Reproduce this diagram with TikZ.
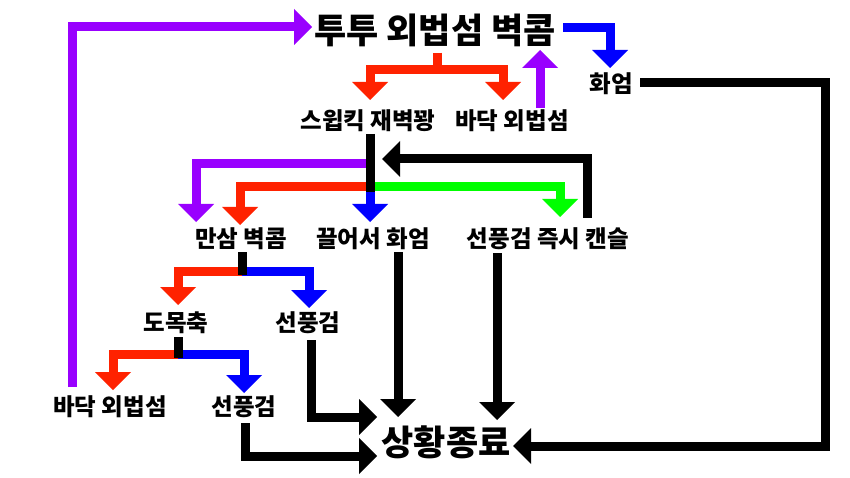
\documentclass[tikz,border=0pt]{standalone}
\usepackage{fontspec}
\setmainfont{Noto Sans CJK KR}[UprightFont=* Black]
\usetikzlibrary{arrows.meta}
\definecolor{cpur}{RGB}{153,0,255}
\definecolor{cred}{RGB}{255,34,0}
\definecolor{cblu}{RGB}{0,0,255}
\definecolor{cgrn}{RGB}{0,255,0}
\tikzset{
  conn/.style={line width=9pt, line join=miter},
  tipped/.style={conn, -{Triangle[length=18pt,width=36pt,line width=0pt]}},
  apur/.style={tipped, color=cpur},
  ared/.style={tipped, color=cred},
  ablu/.style={tipped, color=cblu},
  agrn/.style={tipped, color=cgrn},
  ablk/.style={tipped, color=black},
  stem/.style={conn, color=black},
  big/.style={inner sep=0pt, font=\fontsize{35}{35}\selectfont},
  small/.style={inner sep=0pt, font=\fontsize{23.5}{23.5}\selectfont},
}
\begin{document}
\begin{tikzpicture}[x=1pt,y=-1pt]
\fill[white] (0,0) rectangle (850,478);
\useasboundingbox (0,0) rectangle (850,478);
% nodes
\node[big]   (title)  at (435,30)  {투투 외법섬 벽콤};
\node[small] (swk)    at (368,121) {스윕킥 재벽꽝};
\node[small] (bada1)  at (512,121) {바닥 외법섬};
\node[small] (hwa1)   at (611,84)  {화엄};
\node[small] (mansam) at (241,239) {만삼 벽콤};
\node[small] (kkeul)  at (373,239) {끌어서 화엄};
\node[small] (sunjs)  at (548,239) {선풍검 즉시 캔슬};
\node[small] (domok)  at (176,323) {도목축};
\node[small] (sun1)   at (308,323) {선풍검};
\node[small] (bada2)  at (110,407) {바닥 외법섬};
\node[small] (sun2)   at (244,407) {선풍검};
\node[big]   (fin)    at (446,442) {상황종료};
% top level
\draw[apur] (72,387) -- (72,27) -- (312,27);
\draw[ablu] (563,28) -- (610,28) -- (610,68);
\draw[ared] (437,53) |- (370,70) -- (370,100);
\draw[ared] (437,53) |- (503,70) -- (503,100);
\draw[apur] (540,108) -- (540,50);
\draw[ablk] (640,83) -- (825,83) -- (825,446) -- (513,446);
% middle level
\draw[apur] (370,164) -| (196,222);
\draw[ared] (370,187) -| (240,225);
\draw[agrn] (370,187) -| (560,217);
\draw[ablu] (370,190) -- (370,222);
\draw[stem] (370,134) -- (370,192);
\draw[ablk] (587,218) |- (382,159);
% lower level
\draw[ared] (242,271) -| (178,305);
\draw[ablu] (242,271) -| (309,308);
\draw[stem] (242,252) -- (242,275);
\draw[ared] (178,354) -| (113,390);
\draw[ablu] (178,354) -| (244,393);
\draw[stem] (178,337) -- (178,358);
% into end
\draw[ablk] (311,340) |- (377,417);
\draw[ablk] (245,423) |- (377,456);
\draw[ablk] (398,252) -- (398,417);
\draw[ablk] (497,253) -- (497,420);
\end{tikzpicture}
\end{document}
